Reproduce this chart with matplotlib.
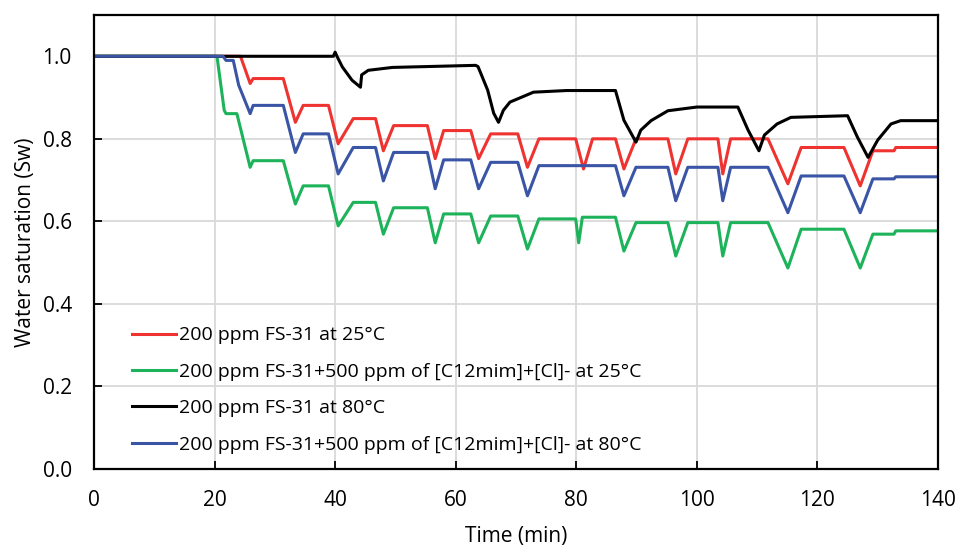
import numpy as np
import matplotlib
matplotlib.use("Agg")
import matplotlib.pyplot as plt

plt.rcParams['font.family'] = ['Open Sans', 'DejaVu Sans']

# 200 ppm FS-31 at 25°C
t_red = [0, 24.3, 25.9, 26.4, 31.4, 33.4, 34.7, 38.9, 40.5, 43, 46.7, 48, 49.7, 55.3,
         56.6, 58, 62.5, 63.8, 65.8, 70.3, 71.9, 73.8, 79.9, 81.2, 82.7, 86.5, 87.9,
         89.9, 95.2, 96.5, 98.5, 103.5, 104.3, 105.6, 111.8, 115.1, 117.3, 124.4,
         127.1, 129.2, 132.7, 133, 140]
sw_red = [1.0, 1.0, 0.934, 0.946, 0.946, 0.840, 0.881, 0.881, 0.788, 0.849, 0.849, 0.771,
          0.832, 0.832, 0.752, 0.820, 0.820, 0.752, 0.812, 0.812, 0.731, 0.800, 0.800,
          0.727, 0.800, 0.800, 0.727, 0.800, 0.800, 0.715, 0.800, 0.800, 0.715, 0.800,
          0.800, 0.691, 0.779, 0.779, 0.686, 0.771, 0.771, 0.779, 0.779]

# 200 ppm FS-31 + 500 ppm IL at 25°C
t_green = [0, 20.4, 21.6, 21.9, 23.7, 25.9, 26.4, 31.4, 33.4, 34.7, 38.9, 40.5, 43, 46.7,
           48, 49.7, 55.3, 56.6, 58, 62.5, 63.8, 65.8, 70.3, 71.9, 73.8, 79.9, 80.4, 81.0,
           86.5, 87.9, 89.9, 95.2, 96.5, 98.5, 103.5, 104.3, 105.6, 111.8, 115.1, 117.3,
           124.4, 127.1, 129.2, 132.7, 133, 140]
sw_green = [1.0, 1.0, 0.869, 0.861, 0.861, 0.731, 0.747, 0.747, 0.642, 0.686, 0.686, 0.589,
            0.646, 0.646, 0.569, 0.633, 0.633, 0.548, 0.618, 0.618, 0.548, 0.613, 0.613,
            0.533, 0.606, 0.606, 0.548, 0.610, 0.610, 0.528, 0.597, 0.597, 0.516, 0.597,
            0.597, 0.516, 0.597, 0.597, 0.487, 0.581, 0.581, 0.487, 0.569, 0.569, 0.577,
            0.577]

# 200 ppm FS-31 at 80°C
t_black = [0, 39.7, 40.0, 40.3, 41.2, 42.8, 44.2, 44.4, 45.5, 49.5, 63.3, 63.7, 65.3, 66.3,
           67.1, 67.9, 69.0, 72.9, 78.4, 86.5, 87.9, 89.9, 90.7, 92.4, 95.2, 100, 106.8,
           108.5, 110.3, 111.2, 113.3, 115.6, 125, 126.6, 128.4, 130.0, 132.2, 133.8, 140]
sw_black = [1.0, 1.0, 1.01, 1.0, 0.974, 0.942, 0.925, 0.955, 0.966, 0.973, 0.978, 0.975,
            0.918, 0.862, 0.840, 0.869, 0.889, 0.913, 0.917, 0.917, 0.845, 0.792, 0.821,
            0.844, 0.868, 0.877, 0.877, 0.821, 0.771, 0.809, 0.836, 0.852, 0.856, 0.805,
            0.755, 0.797, 0.836, 0.844, 0.844]

# 200 ppm FS-31 + 500 ppm IL at 80°C
t_blue = [0, 21.4, 21.9, 23.1, 24.0, 25.9, 26.4, 31.4, 33.4, 34.7, 38.9, 40.5, 43, 46.7,
          48, 49.7, 55.3, 56.6, 58, 62.5, 63.8, 65.8, 70.3, 71.9, 73.8, 86.5, 87.9, 89.9,
          95.2, 96.5, 98.5, 103.5, 104.3, 105.6, 111.8, 115.1, 117.3, 124.4, 127.1, 129.2,
          132.7, 133, 140]
sw_blue = [1.0, 1.0, 0.99, 0.99, 0.93, 0.861, 0.881, 0.881, 0.767, 0.812, 0.812, 0.715,
           0.779, 0.779, 0.698, 0.767, 0.767, 0.679, 0.749, 0.749, 0.679, 0.743, 0.743,
           0.662, 0.735, 0.735, 0.662, 0.731, 0.731, 0.650, 0.731, 0.731, 0.650, 0.731,
           0.731, 0.621, 0.710, 0.710, 0.621, 0.703, 0.703, 0.708, 0.708]

labels = ['200 ppm FS-31 at 25°C',
          '200 ppm FS-31+500 ppm of [C12mim]+[Cl]- at 25°C',
          '200 ppm FS-31 at 80°C',
          '200 ppm FS-31+500 ppm of [C12mim]+[Cl]- at 80°C']

fig = plt.figure(figsize=(9.59, 5.46), dpi=100)
ax = fig.add_axes([94 / 959, 1 - 469 / 546, (938 - 94) / 959, (469 - 15) / 546])

ax.plot(t_red, sw_red, color='#ee3331', lw=2.2, label=labels[0])
ax.plot(t_green, sw_green, color='#1db35a', lw=2.2, label=labels[1])
ax.plot(t_black, sw_black, color='black', lw=2.2, label=labels[2])
ax.plot(t_blue, sw_blue, color='#3a55a5', lw=2.2, label=labels[3])

ax.set_xlim(0, 140)
ax.set_ylim(0, 1.1)
ax.set_xticks(np.arange(0, 141, 20))
ax.set_yticks(np.arange(0, 1.01, 0.2))
ax.set_yticklabels(['%.1f' % v for v in np.arange(0, 1.01, 0.2)])
ax.grid(True, color='#d9d9d9', lw=1.3)
ax.set_axisbelow(True)
for s in ax.spines.values():
    s.set_linewidth(1.6)
ax.tick_params(direction='in', length=6, width=1.3, labelsize=15)
ax.tick_params(axis='y', pad=16)
ax.tick_params(axis='x', pad=15)

ax.set_xlabel('Time (min)', fontsize=15, labelpad=11)
ax.set_ylabel('Water saturation (Sw)', fontsize=15, labelpad=5)

ax.legend(loc='lower left', bbox_to_anchor=(0.024, -0.005), frameon=False, fontsize=14,
          handlelength=2.3, handletextpad=0.15, labelspacing=0.95)

fig.savefig('out.png', dpi=100)
